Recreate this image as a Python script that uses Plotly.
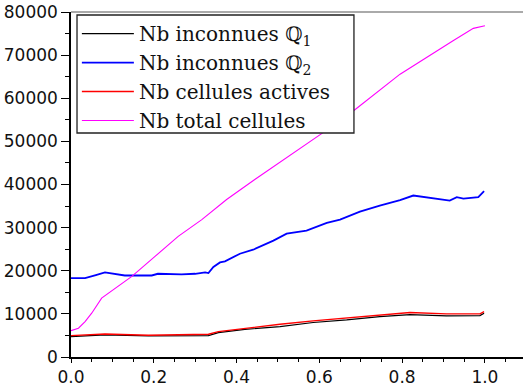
import plotly.graph_objects as go

# Series
x_q1 = [0.0, 0.082, 0.187, 0.332, 0.356, 0.42, 0.505, 0.585, 0.666, 0.746, 0.819, 0.907, 0.988, 0.998]
y_q1 = [4730, 5120, 4900, 4960, 5650, 6400, 7050, 8000, 8600, 9380, 9840, 9530, 9610, 10150]

x_q2 = [0.0, 0.034, 0.06, 0.082, 0.13, 0.195, 0.21, 0.267, 0.30, 0.324, 0.332, 0.344, 0.36, 0.372,
        0.408, 0.44, 0.489, 0.521, 0.569, 0.618, 0.65, 0.698, 0.746, 0.795, 0.827,
        0.859, 0.891, 0.915, 0.932, 0.948, 0.984, 0.998]
y_q2 = [18300, 18300, 19000, 19600, 18900, 18900, 19300, 19150, 19300, 19600, 19450, 20860, 21930, 22170,
        23950, 24880, 26980, 28600, 29300, 31090, 31860, 33700, 35120, 36360, 37440,
        37050, 36670, 36280, 37050, 36740, 37050, 38450]

x_act = [0.0, 0.082, 0.187, 0.332, 0.356, 0.42, 0.505, 0.585, 0.666, 0.746, 0.819, 0.907, 0.988, 0.998]
y_act = [4950, 5350, 5040, 5270, 5890, 6670, 7600, 8370, 9000, 9770, 10310, 10000, 10000, 10540]

x_tot = [0.0, 0.018, 0.034, 0.05, 0.074, 0.102, 0.147, 0.203, 0.259, 0.316, 0.376, 0.444,
         0.609, 0.682, 0.795, 0.923, 0.972, 1.0]
y_tot = [6120, 6670, 8220, 10160, 13650, 15580, 18680, 23330, 27980, 31860, 36510, 41160,
         52020, 57050, 65580, 73330, 76200, 76810]

names = ["Nb inconnues ℚ<sub>1</sub>", "Nb inconnues ℚ<sub>2</sub>",
         "Nb cellules actives", "Nb total cellules"]
colors = ["#000000", "#0000ff", "#ff0000", "#ff00ff"]
widths = [1.2, 1.8, 1.4, 1.1]

x_ticks = [0, 0.2, 0.4, 0.6, 0.8, 1.0]
x_labels = ["0.0", "0.2", "0.4", "0.6", "0.8", "1.0"]
y_ticks = [0, 10000, 20000, 30000, 40000, 50000, 60000, 70000, 80000]
y_labels = [str(v) for v in y_ticks]

fig = go.Figure()
for xs, ys, n, c, w in zip([x_q1, x_q2, x_act, x_tot], [y_q1, y_q2, y_act, y_tot], names, colors, widths):
    fig.add_trace(go.Scatter(x=xs, y=ys, mode="lines", name=n, line=dict(color=c, width=w)))

fig.update_layout(
    width=523, height=387,
    margin=dict(l=71, r=0, t=12, b=30),
    paper_bgcolor="white", plot_bgcolor="white",
    showlegend=True,
    legend=dict(x=0.013, y=0.994, xanchor="left", yanchor="top",
                borderwidth=0, bgcolor="rgba(0,0,0,0)",
                font=dict(family="DejaVu Serif", size=20, color="#111111"),
                tracegroupgap=0, itemwidth=52),
    font=dict(family="DejaVu Sans", size=17, color="#111111"),
)
fig.update_xaxes(range=[0, 1.092], tickvals=x_ticks, ticktext=x_labels,
                 showgrid=False, zeroline=False, showline=True, linecolor="black", linewidth=1.5,
                 ticks="outside", ticklen=4, tickcolor="black", tickwidth=1.2,
                 minor=dict(ticks="outside", ticklen=3, dtick=0.05, tickcolor="black", showgrid=False))
fig.update_yaxes(range=[0, 80000], tickvals=y_ticks, ticktext=y_labels,
                 showgrid=False, zeroline=False, showline=True, linecolor="black", linewidth=1.5,
                 ticks="outside", ticklen=8, tickcolor="black", tickwidth=1.2,
                 minor=dict(ticks="outside", ticklen=4, dtick=5000, tickcolor="black", showgrid=False))
fig.add_shape(type="line", xref="paper", yref="paper", x0=0, x1=1, y0=1.0, y1=1.0,
              line=dict(color="#aaaaaa", width=2))
# legend frame
fig.add_shape(type="rect", xref="paper", yref="paper", x0=0.0133, x1=0.626, y0=0.6493, y1=0.9913,
              fillcolor="white", line=dict(color="#222222", width=1.3), layer="above")
fig.write_html("out.html", config={"displayModeBar": False},
               post_script="document.body.style.margin='0';document.body.style.padding='0';")
